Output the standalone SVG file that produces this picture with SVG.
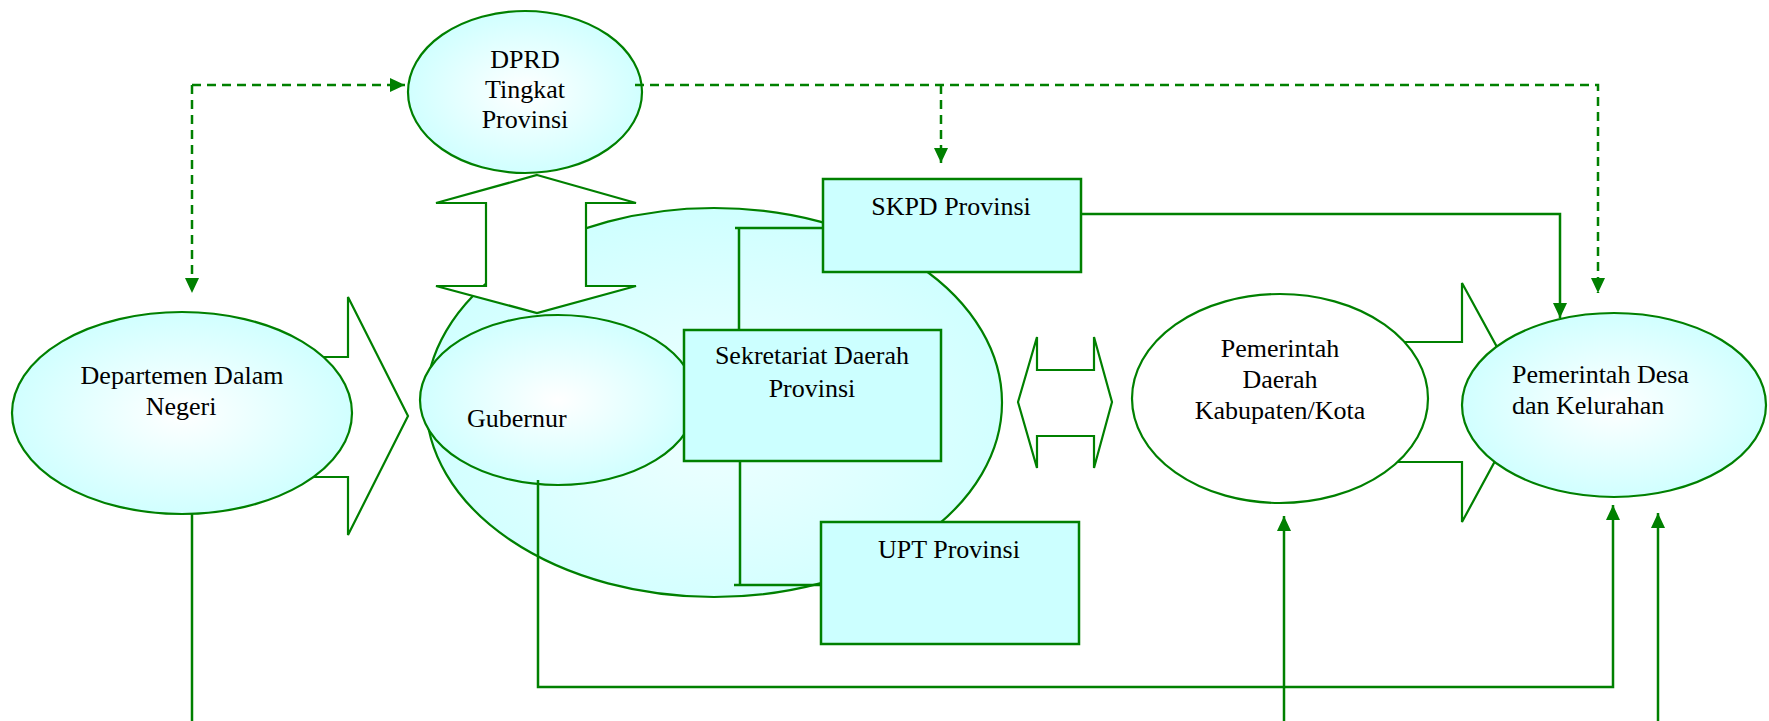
<svg xmlns="http://www.w3.org/2000/svg" width="1769" height="721" viewBox="0 0 1769 721">
<style>
.ln{fill:none;stroke:#008000;stroke-width:2.5}
.dash{fill:none;stroke:#008000;stroke-width:2.5;stroke-dasharray:9 6}
.shape{stroke:#008000;stroke-width:2.2}
.blk{fill:#ffffff;stroke:#008000;stroke-width:2.2;stroke-linejoin:miter}
.box{fill:#ccffff;stroke:#008000;stroke-width:2.5}
.t{font-family:"Liberation Serif","Times New Roman",serif;font-size:26px;fill:#000000}
.c{text-anchor:middle}
</style>
<defs>
<radialGradient id="g1" cx="0.5" cy="0.5" r="0.55">
<stop offset="0" stop-color="#ffffff"/>
<stop offset="1" stop-color="#ccffff"/>
</radialGradient>
<radialGradient id="g2" cx="0.5" cy="0.55" r="0.6">
<stop offset="0" stop-color="#f0ffff"/>
<stop offset="1" stop-color="#ccffff"/>
</radialGradient>
<marker id="ah" markerUnits="userSpaceOnUse" markerWidth="16" markerHeight="16" viewBox="0 0 16 16" refX="15" refY="8" orient="auto">
<path d="M0,1 L15,8 L0,15 Z" fill="#008000"/>
</marker>
</defs>

<g id="node-departemen">
<polygon class="blk" points="300,357 348,357 348,297 408,416 348,535 348,477 300,477"/>
<ellipse class="shape" cx="182" cy="413" rx="170" ry="101" fill="url(#g1)"/>
<text class="t c" x="182" y="384">Departemen Dalam</text>
<text class="t c" x="181" y="415">Negeri</text>
</g>

<g id="node-provinsi">
<ellipse class="shape" cx="714" cy="402.5" rx="288" ry="194.5" fill="url(#g2)"/>
</g>

<g id="node-arrow-dprd-gubernur">
<polygon class="blk" points="537,175 636,203 586,203 586,286 636,286 537,313 436,286 486,286 486,203 436,203"/>
</g>

<g id="node-dprd">
<ellipse class="shape" cx="525" cy="92" rx="117" ry="81" fill="url(#g1)"/>
<text class="t c" x="525" y="68">DPRD</text>
<text class="t c" x="525" y="98">Tingkat</text>
<text class="t c" x="525" y="128">Provinsi</text>
</g>

<g id="node-gubernur">
<ellipse class="shape" cx="558" cy="400" rx="138" ry="85" fill="url(#g1)"/>
<text class="t" x="467" y="427">Gubernur</text>
</g>

<g id="node-sekretariat">
<rect class="box" x="684" y="330" width="257" height="131"/>
<text class="t c" x="812" y="364">Sekretariat Daerah</text>
<text class="t c" x="812" y="397">Provinsi</text>
</g>

<g id="node-skpd">
<rect class="box" x="823" y="179" width="258" height="93"/>
<text class="t c" x="951" y="215">SKPD Provinsi</text>
</g>

<g id="node-upt">
<rect class="box" x="821" y="522" width="258" height="122"/>
<text class="t c" x="949" y="558">UPT Provinsi</text>
</g>

<g id="node-arrow-provinsi-kab">
<polygon class="blk" points="1018,402 1037,337 1037,370 1094,370 1094,337 1112,402 1094,468 1094,436 1037,436 1037,468"/>
</g>

<g id="node-kabupaten">
<polygon class="blk" points="1380,342 1462,342 1462,283 1527,402 1462,522 1462,462 1380,462"/>
<ellipse class="shape" cx="1280" cy="398.5" rx="148" ry="104.5" fill="#ffffff"/>
<text class="t c" x="1280" y="357">Pemerintah</text>
<text class="t c" x="1280" y="388">Daerah</text>
<text class="t c" x="1280" y="419">Kabupaten/Kota</text>
</g>

<g id="node-desa">
<ellipse class="shape" cx="1614" cy="405" rx="152" ry="92" fill="url(#g1)"/>
<text class="t" x="1512" y="383">Pemerintah Desa</text>
<text class="t" x="1512" y="414">dan Kelurahan</text>
</g>

<g id="connectors">
<path class="dash" d="M192,85 L405,85" marker-end="url(#ah)"/>
<path class="dash" d="M192,85 L192,293" marker-end="url(#ah)"/>
<path class="dash" d="M635,85 L1598,85 L1598,293" marker-end="url(#ah)"/>
<path class="dash" d="M941,85 L941,163" marker-end="url(#ah)"/>
<path class="ln" d="M1081,214 L1560,214 L1560,318" marker-end="url(#ah)"/>
<path class="ln" d="M739,330 L739,228 M735,228 L823,228"/>
<path class="ln" d="M740,461 L740,585 M734,585 L821,585"/>
<path class="ln" d="M192,514 L192,721"/>
<path class="ln" d="M538,480 L538,687 L1613,687 L1613,505" marker-end="url(#ah)"/>
<path class="ln" d="M1284,721 L1284,516" marker-end="url(#ah)"/>
<path class="ln" d="M1658,721 L1658,513" marker-end="url(#ah)"/>
</g>
</svg>
